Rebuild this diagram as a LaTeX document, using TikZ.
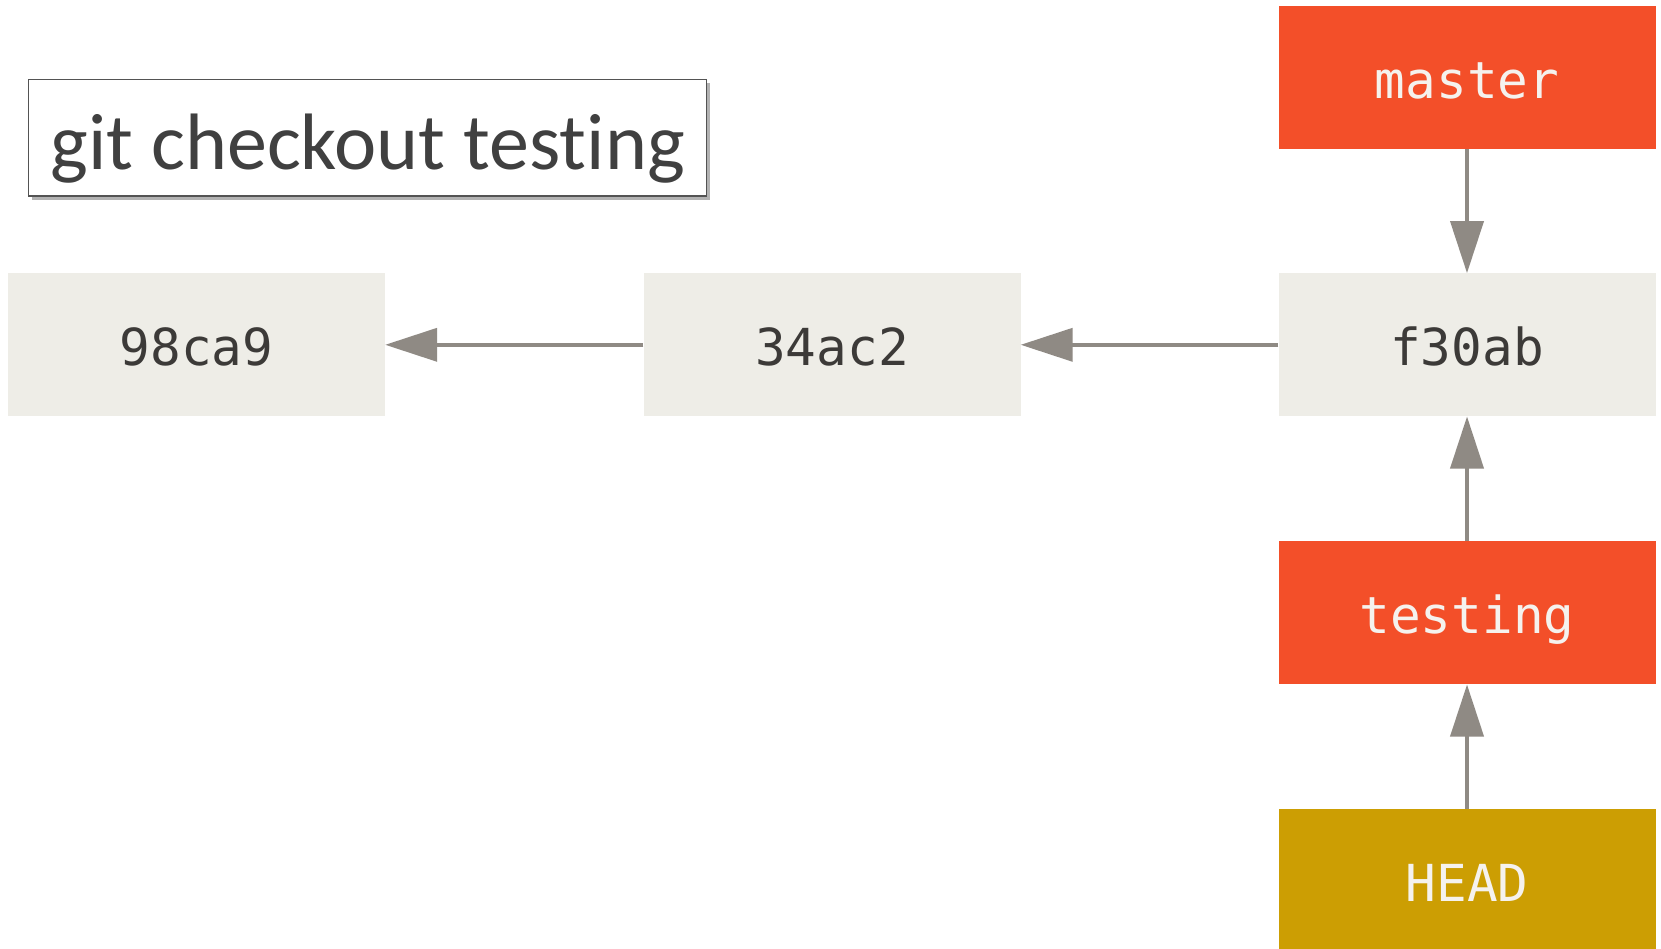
\documentclass[tikz,border=0pt]{standalone}
\usepackage{fontspec}
\setmainfont[Ligatures={NoCommon}]{Carlito}
\newfontfamily\monofont{DejaVu Sans Mono}
\usetikzlibrary{arrows.meta,shadows}
\definecolor{commitfill}{HTML}{EEEDE7}
\definecolor{committext}{HTML}{3C3A38}
\definecolor{branchfill}{HTML}{F34F29}
\definecolor{headfill}{HTML}{CC9E03}
\definecolor{branchtext}{HTML}{F5F2EE}
\definecolor{arrowgray}{HTML}{8F8A84}
\definecolor{titletext}{HTML}{404040}
\begin{document}
\begin{tikzpicture}[x=1pt,y=-1pt,
  box/.style={minimum width=377pt, minimum height=143pt, inner sep=0pt,
    text height=42pt, text depth=0pt,
    font=\monofont\fontsize{51}{60}\selectfont},
  commit/.style={box, fill=commitfill, text=committext},
  branch/.style={box, fill=branchfill, text=branchtext},
  headbox/.style={box, fill=headfill, text=branchtext},
  link/.style={draw=arrowgray, line width=3.8pt,
    -{Triangle[length=52pt,width=33pt]}, arrowgray},
  titlebox/.style={draw=titletext!90, line width=1.3pt, fill=white,
    minimum width=678pt, minimum height=116.6pt, inner sep=0pt,
    text height=70pt, text depth=6pt,
    text=titletext, font=\fontsize{80}{90}\selectfont,
    drop shadow={shadow xshift=3pt, shadow yshift=-4pt, fill=black, opacity=0.3}}]
\useasboundingbox (0,0) rectangle (1661,948);
\fill[white] (0,0) rectangle (1661,948);

\node[titlebox] (title) at (367.6,137.7) {git checkout testing};

\node[commit] (c1) at (196.5,344.8) {98ca9};
\node[commit] (c2) at (832,344.8) {34ac2};
\node[commit] (c3) at (1467,344.8) {f30ab};

\node[branch] (master) at (1467,77.3) {master};
\node[branch] (testing) at (1467,612.8) {testing};
\node[headbox] (head) at (1467,880.3) {HEAD};

\draw[link] (c2) -- (c1);
\draw[link] (c3) -- (c2);
\draw[link] (master) -- (c3);
\draw[link] (testing) -- (c3);
\draw[link] (head) -- (testing);
\end{tikzpicture}
\end{document}
